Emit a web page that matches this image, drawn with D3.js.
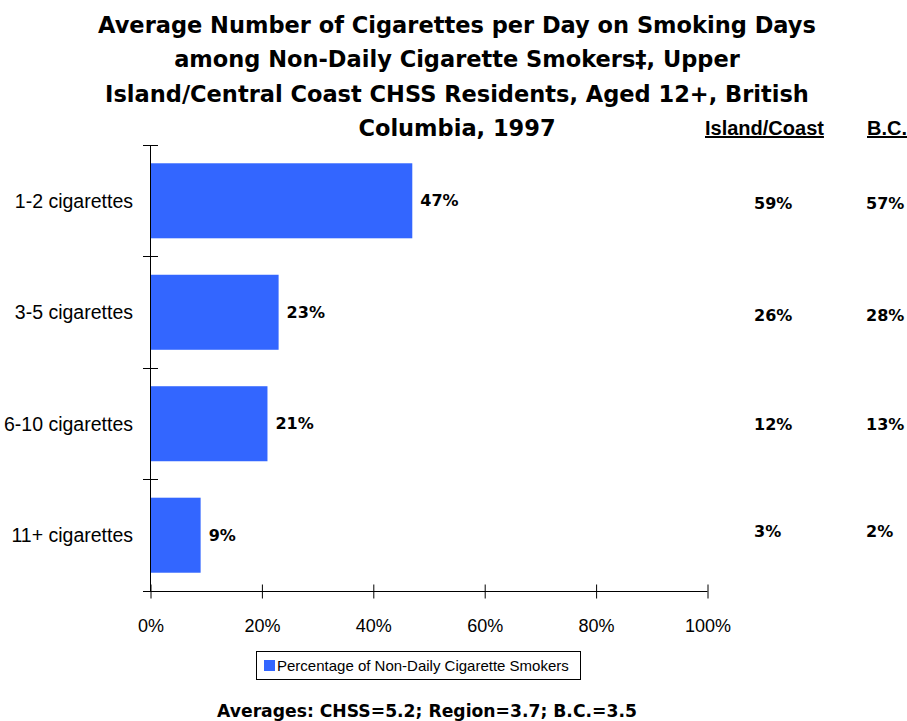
<!DOCTYPE html>
<html>
<head>
<meta charset="utf-8">
<script src="https://cdn.jsdelivr.net/npm/d3@7"></script>
<style>
  html, body { margin: 0; padding: 0; background: #fff; }
  svg { display: block; font-family: "Liberation Sans", Arial, sans-serif; }
</style>
</head>
<body>
<svg id="chart" width="907" height="721"></svg>
<script>
const titleLines = [
  "Average Number of Cigarettes per Day on Smoking Days",
  "among Non-Daily Cigarette Smokers\u2021, Upper",
  "Island/Central Coast CHSS Residents, Aged 12+, British",
  "Columbia, 1997"
];
const categories = ["1-2 cigarettes", "3-5 cigarettes", "6-10 cigarettes", "11+ cigarettes"];
const chssValues = [47, 23, 21, 9];
const islandCoastValues = [59, 26, 12, 3];
const bcValues = [57, 28, 13, 2];
const xTicks = [0, 20, 40, 60, 80, 100];
const columnHeaders = ["Island/Coast", "B.C."];
const legendLabel = "Percentage of Non-Daily Cigarette Smokers";
const footnote = "Averages: CHSS=5.2; Region=3.7; B.C.=3.5";

const svg = d3.select("#chart");
const barColor = "#3366FF";
const boldFont = "'DejaVu Sans', Verdana, sans-serif";

const x = d3.scaleLinear().domain([0, 100]).range([150.5, 707.5]);
const yTop = 145, yBot = 591;
const y = d3.scaleBand().domain(categories).range([yTop, yBot]).paddingInner(0.327).paddingOuter(0.164);
const yCol = d3.scalePoint().domain(categories).range([203, 531]);

// Title
svg.append("g").selectAll("text").data(titleLines).join("text")
  .attr("x", 457).attr("y", (d, i) => 33 + i * 34.3)
  .attr("text-anchor", "middle")
  .attr("font-family", boldFont)
  .attr("font-size", 22.5).attr("font-weight", "bold").attr("fill", "#000")
  .text(d => d);

// Bars
svg.append("g").selectAll("rect").data(chssValues).join("rect")
  .attr("x", x(0)).attr("y", (d, i) => y(categories[i]))
  .attr("width", d => x(d) - x(0)).attr("height", y.bandwidth())
  .attr("fill", barColor);

// Y axis (line + boundary ticks crossing)
const step = y.step();
const g = svg.append("g").attr("stroke", "#000").attr("stroke-width", 1);
g.append("line").attr("x1", 150.5).attr("x2", 150.5).attr("y1", yTop).attr("y2", yBot);
const boundaries = d3.range(categories.length).map(i => yTop + i * step);
g.selectAll("line.yt").data(boundaries).join("line").attr("class", "yt")
  .attr("x1", 143).attr("x2", 158).attr("y1", d => Math.round(d) + 0.5).attr("y2", d => Math.round(d) + 0.5);

// X axis
const xAxis = d3.axisBottom(x).tickValues(xTicks).tickFormat(d => d + "%").tickSize(0).tickPadding(0);
const xg = svg.append("g").attr("transform", `translate(0,${yBot + 0.5})`).call(xAxis);
xg.select(".domain").remove();
xg.append("line").attr("x1", 143).attr("x2", x(100)).attr("y1", 0).attr("y2", 0).attr("stroke", "#000");
xg.selectAll(".tick").append("line").attr("y1", -7).attr("y2", 7).attr("stroke", "#000");
xg.selectAll(".tick text").attr("y", 28).attr("font-size", 18).attr("fill", "#000")
  .attr("font-family", "Liberation Sans, Arial, sans-serif");

// Category labels
svg.append("g").selectAll("text").data(categories).join("text")
  .attr("x", 133).attr("y", d => y(d) + y.bandwidth() / 2)
  .attr("dy", "0.35em").attr("text-anchor", "end")
  .attr("font-size", 19.5).attr("fill", "#000").text(d => d);

// Value labels
svg.append("g").selectAll("text").data(chssValues).join("text")
  .attr("x", d => x(d) + 8).attr("y", (d, i) => y(categories[i]) + y.bandwidth() / 2)
  .attr("dy", "0.35em").attr("font-family", boldFont)
  .attr("font-size", 16).attr("font-weight", "bold").attr("fill", "#000")
  .text(d => d + "%");

// Column headers
const headerX = [705, 867];
svg.append("g").selectAll("text").data(columnHeaders).join("text")
  .attr("x", (d, i) => headerX[i]).attr("y", 135)
  .attr("font-size", 20).attr("font-weight", "bold").attr("fill", "#000")
  .attr("text-decoration", "underline")
  .text(d => d);

// Comparison columns
const colX = [754, 866];
[islandCoastValues, bcValues].forEach((vals, c) => {
  svg.append("g").selectAll("text").data(vals).join("text")
    .attr("x", colX[c]).attr("y", (d, i) => yCol(categories[i]) + (i === 1 || i === 2 ? 3 : 0))
    .attr("dy", "0.35em").attr("font-family", boldFont)
    .attr("font-size", 16).attr("font-weight", "bold").attr("fill", "#000")
    .text(d => d + "%");
});

// Legend
const lg = svg.append("g");
lg.append("rect").attr("x", 256.5).attr("y", 651.5).attr("width", 324).attr("height", 28)
  .attr("fill", "#fff").attr("stroke", "#000").attr("stroke-width", 1);
lg.append("rect").attr("x", 264).attr("y", 660).attr("width", 11).attr("height", 11).attr("fill", barColor);
lg.append("text").attr("x", 277).attr("y", 666).attr("dy", "0.35em")
  .attr("font-size", 15).attr("fill", "#000").text(legendLabel);

// Footnote
svg.append("text").attr("x", 427).attr("y", 717).attr("text-anchor", "middle")
  .attr("font-family", boldFont)
  .attr("font-size", 17.2).attr("font-weight", "bold").attr("fill", "#000").text(footnote);
</script>
</body>
</html>
